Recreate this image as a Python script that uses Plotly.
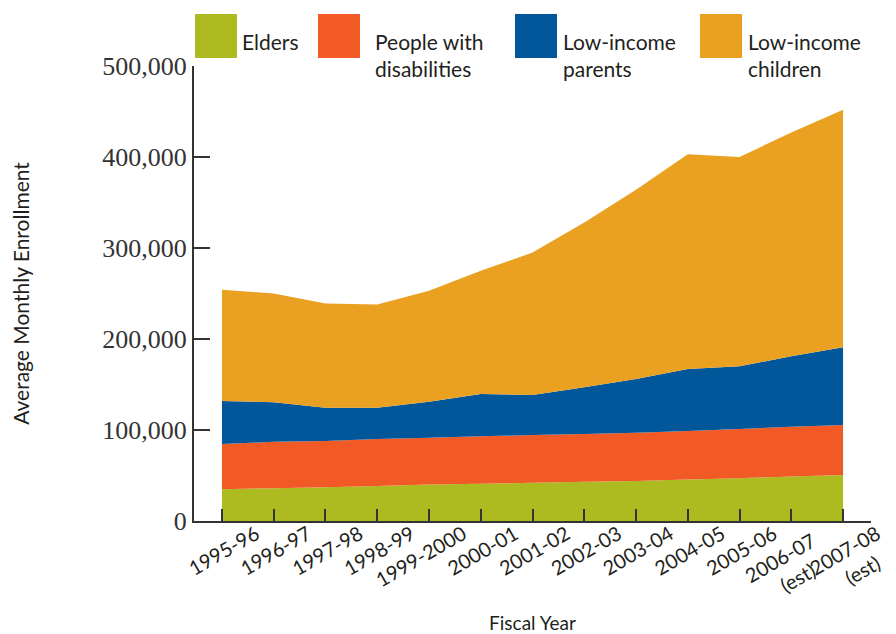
import plotly.graph_objects as go

EM = "\u2003"
years = ["1995-96", "1996-97", "1997-98", "1998-99", "1999-2000", "2000-01", "2001-02",
         "2002-03", "2003-04", "2004-05", "2005-06", "2006-07", "2007-08"]
est_flags = [False] * 11 + [True, True]
elders = [35000, 36000, 37000, 38500, 40000, 41000, 42000, 43000, 44000, 45500, 47000, 49000, 50500]
disabilities = [49500, 51000, 51000, 51500, 51500, 52000, 52500, 52500, 53000, 53500, 54000, 54500, 55000]
parents = [47500, 43500, 36500, 34500, 39500, 46500, 44000, 51500, 59000, 68000, 69000, 77500, 85500]
children = [122000, 119500, 114500, 113500, 122000, 135500, 156500, 181000, 208000, 236000, 230000, 246000, 261000]

series_names = ["Elders", "People with<br>disabilities", "Low-income<br>parents", "Low-income<br>children"]
series_vals = [elders, disabilities, parents, children]
colors = ["#adbb21", "#f15a24", "#02569a", "#eaa121"]

# tick texts; trailing wide spaces only nudge label placement (centred "(est)" lines)
ticktext = []
for i, (y, est) in enumerate(zip(years, est_flags)):
    if not est:
        ticktext.append(y)
    elif i == len(years) - 1:
        ticktext.append(y + "<br>(est)" + EM)
    else:
        ticktext.append(y + EM + "<br>(est)" + EM + EM)

xs = list(range(len(years)))
fig = go.Figure()
for name, vals, c in zip(series_names, series_vals, colors):
    fig.add_trace(go.Scatter(x=xs, y=vals, name=name, stackgroup="one", mode="none",
                             fillcolor=c, line=dict(width=0), showlegend=False))

# page body has an 8px margin, so figure coords = page coords - 8
W, H = 888, 626
L, R, T, B = 186, 863, 58, 513
def px(x):
    return (x - L) / (R - L)
def py(y):
    return (B - y) / (B - T)

sw_x = [187, 310, 507, 692]
tx_x = [232, 365, 553, 738]
for name, c, sx, tx in zip(series_names, colors, sw_x, tx_x):
    fig.add_shape(type="rect", xref="paper", yref="paper",
                  x0=px(sx), x1=px(sx + 42), y0=py(50), y1=py(6),
                  fillcolor=c, line=dict(width=0))
    fig.add_annotation(text=name, xref="paper", yref="paper",
                       x=px(tx), y=py(19),
                       xanchor="left", yanchor="top", showarrow=False, align="left",
                       font=dict(family="Lato, sans-serif", size=21, color="#231f20"))

fig.update_layout(
    width=W, height=H,
    margin=dict(l=L, r=W - R, t=T, b=H - B),
    paper_bgcolor="white", plot_bgcolor="white",
    showlegend=False,
)
fig.update_xaxes(
    range=[-0.54, 12.54], tickvals=xs, ticktext=ticktext, tickangle=-30,
    ticks="inside", ticklen=12, tickwidth=2, tickcolor="#333",
    showline=True, linecolor="#333", linewidth=2, showgrid=False, zeroline=False,
    tickfont=dict(family="Lato, sans-serif", size=20, color="#231f20"),
    ticklabelshift=34, ticklabelstandoff=-8, ticklabeloverflow="allow", automargin=False,
    title=dict(text="Fiscal Year", font=dict(family="Lato, sans-serif", size=19, color="#231f20"), standoff=14),
)
fig.update_yaxes(
    range=[0, 500000], tickvals=[0, 100000, 200000, 300000, 400000, 500000], tickformat=",",
    ticks="inside", ticklen=16, tickwidth=2, tickcolor="#333",
    showline=True, linecolor="#333", linewidth=2, showgrid=False, zeroline=False,
    tickfont=dict(family="Liberation Serif, serif", size=26, color="#333"),
    automargin=False,
    title=dict(text="Average Monthly Enrollment", font=dict(family="Lato, sans-serif", size=21, color="#231f20"), standoff=70),
)
fig.write_html("out.html")
